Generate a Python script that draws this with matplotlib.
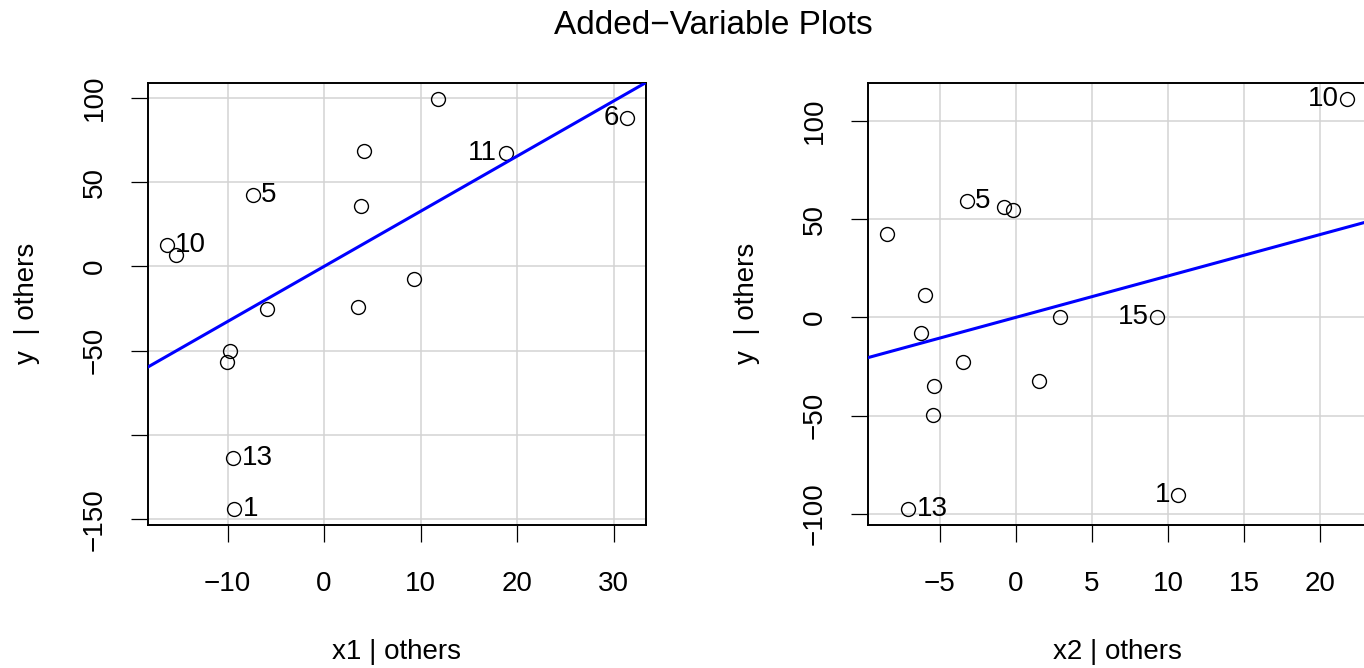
import matplotlib
matplotlib.use("Agg")
import matplotlib.pyplot as plt

plt.rcParams['font.family'] = ['Liberation Sans', 'DejaVu Sans']

# added-variable residuals, panel 1 (x1 | others)
x1_res = [11.8, 31.4, 18.8, 4.15, -7.4, 3.8, -16.3, -15.3, 9.3, -5.9, 3.5, -9.7, -10.1, -9.4, -9.3]
y1_res = [99.2, 87.8, 67.5, 68.6, 42.2, 36.1, 12.4, 6.9, -7.3, -25.2, -24.0, -49.9, -56.6, -113.4, -143.6]
x1_ids = ['', '6', '11', '', '5', '', '10', '', '', '', '', '', '', '13', '1']
x1_slope = 3.27
x1_xticks = [-10, 0, 10, 20, 30]
x1_xticklabels = ['−10', '0', '10', '20', '30']
x1_yticks = [-150, -100, -50, 0, 50, 100]
x1_yticklabels = ['−150', '', '−50', '0', '50', '100']

# panel 2 (x2 | others)
x2_res = [-8.48, -3.22, -0.77, -0.16, -5.96, -6.22, 2.91, -3.44, 1.53, -5.35, -5.45, -7.06, 9.30, 10.68, 21.79]
y2_res = [42.5, 59.5, 56.1, 54.6, 11.2, -7.7, 0.0, -22.8, -32.3, -34.9, -49.5, -97.4, 0.3, -90.7, 111.2]
x2_ids = ['', '5', '', '', '', '', '', '', '', '', '', '13', '15', '1', '10']
x2_slope = 2.11
x2_xticks = [-5, 0, 5, 10, 15, 20]
x2_xticklabels = ['−5', '0', '5', '10', '15', '20']
x2_yticks = [-100, -50, 0, 50, 100]
x2_yticklabels = ['−100', '−50', '0', '50', '100']

FS = 20

fig = plt.figure(figsize=(13.64, 6.68), dpi=100)


def av_panel(rect, xs, ys, ids, slope, xt, xtl, yt, ytl, xlab):
    ax = fig.add_axes(rect)
    ax.plot(xs, ys, 'o', mfc='none', mec='black', ms=10, mew=1.0, zorder=3)
    ax.margins(x=0.04, y=0.04)
    ax.axline((0, 0), slope=slope, color='#0000FF', lw=2.2, zorder=4)

    # label the marked points, left or right of the point like car does
    mx = sum(xs) / len(xs)
    for x, y, s in zip(xs, ys, ids):
        if not s:
            continue
        if x > mx:
            ax.annotate(s, (x, y), xytext=(-6, 0), textcoords='offset points',
                        ha='right', va='center', fontsize=FS)
        else:
            ax.annotate(s, (x, y), xytext=(6, 0), textcoords='offset points',
                        ha='left', va='center', fontsize=FS)

    ax.set_xticks(xt)
    ax.set_xticklabels(xtl)
    ax.set_yticks(yt)
    ax.set_yticklabels(ytl, rotation=90, va='center')
    ax.grid(True, color='#D3D3D3', lw=1.1)
    ax.set_axisbelow(True)
    ax.tick_params(direction='out', length=12, width=0.9, labelsize=FS)
    ax.tick_params(axis='x', pad=21)
    ax.tick_params(axis='y', pad=17)
    for sp in ax.spines.values():
        sp.set_linewidth(1.4)

    ax.set_xlabel(xlab, fontsize=FS, va='center')
    ax.xaxis.set_label_coords(0.5, -0.287)
    ax.set_ylabel('y  | others', fontsize=FS, va='center')
    ax.yaxis.set_label_coords(-0.244, 0.5)
    return ax


av_panel([0.1087, 0.2141, 0.3647, 0.6621], x1_res, y1_res, x1_ids, x1_slope,
         x1_xticks, x1_xticklabels, x1_yticks, x1_yticklabels, 'x1 | others')
av_panel([0.6366, 0.2141, 0.3647, 0.6621], x2_res, y2_res, x2_ids, x2_slope,
         x2_xticks, x2_xticklabels, x2_yticks, x2_yticklabels, 'x2 | others')

fig.text(713 / 1364, 1 - 26 / 668, 'Added−Variable Plots', ha='center', va='center', fontsize=24)

fig.savefig('out.png', dpi=100)
